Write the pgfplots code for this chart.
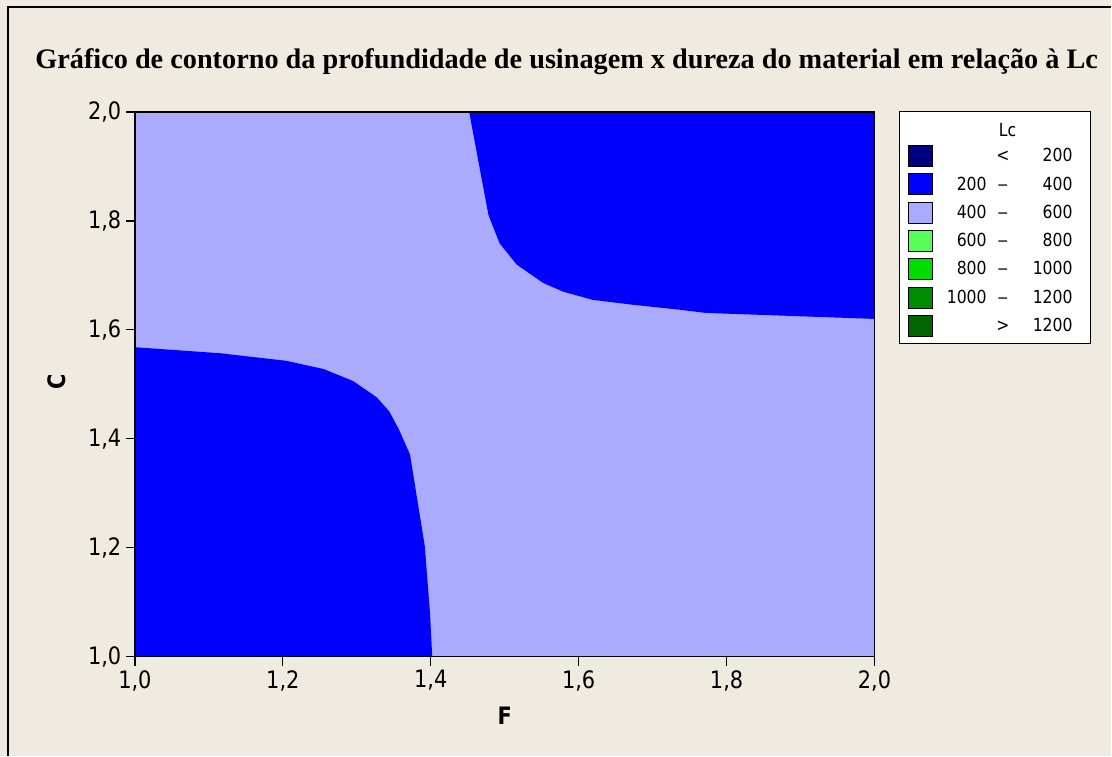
\documentclass[border=0pt]{standalone}
\usepackage{fontspec}
\setmainfont{DejaVu Sans}[FakeStretch=0.87]
\newfontfamily\titlefont{Liberation Serif}
\usepackage{pgfplots}
\pgfplotsset{compat=1.18}

\definecolor{bg}{RGB}{239,235,225}
\definecolor{c1}{RGB}{0,0,128}
\definecolor{c2}{RGB}{0,0,255}
\definecolor{c3}{RGB}{170,170,255}
\definecolor{c4}{RGB}{85,255,85}
\definecolor{c5}{RGB}{0,221,0}
\definecolor{c6}{RGB}{0,140,0}
\definecolor{c7}{RGB}{0,100,0}

% one legend line: low, sign, high
\newcommand\lrow[3]{\makebox[40.3pt][r]{#1}\makebox[24.4pt]{#2}\makebox[47.8pt][l]{\makebox[40.1pt][r]{#3}}}
\newcommand\ldash{\scalebox{1.4}[1]{--}}

\begin{document}
\begin{tikzpicture}
% background, in pixels of the reference (origin = lower left of axis)
\begin{scope}[xshift=-101.25pt, yshift=492.75pt, x=0.75pt, y=-0.75pt]
  \fill[bg] (0,0) rectangle (1112,756);
  \draw[line width=1pt] (8,756) -- (8,7) -- (1112,7);
  \node[font=\titlefont\bfseries\fontsize{21.2}{25}\selectfont, anchor=base] at (567,69)
    {Gráfico de contorno da profundidade de usinagem x dureza do material em relação à Lc};
\end{scope}

\begin{axis}[
  width=555pt, height=408.75pt, scale only axis,
  xmin=1, xmax=2, ymin=1, ymax=2,
  xtick={1,1.2,1.4,1.6,1.8,2},
  ytick={1,1.2,1.4,1.6,1.8,2},
  xtick pos=bottom, ytick pos=left,
  tick align=outside, major tick length=6.75pt,
  tick style={black, line width=1pt},
  axis line style={line width=1pt},
  axis on top,
  /pgf/number format/.cd, use comma, fixed, fixed zerofill, precision=1, assume math mode=true,
  /pgfplots/.cd,
  tick label style={font=\fontsize{18}{21}\selectfont},
  xlabel={F}, ylabel={C},
  label style={font=\bfseries\fontsize{18}{21}\selectfont},
  xlabel style={at={(axis description cs:0.5,-0.108)}, anchor=center},
  ylabel style={at={(axis description cs:-0.105,0.505)}, anchor=center},
  legend image code/.code={\fill[#1] (0pt,-7.875pt) rectangle (18pt,7.875pt);},
  legend style={at={(axis description cs:1.0338,1.0018)}, anchor=north west,
    draw=black, line width=0.75pt, fill=white,
    inner xsep=6pt, inner ysep=5pt, row sep=4.75pt,
    nodes={inner sep=0pt}, font=\fontsize{13.5}{15}\selectfont},
  legend cell align=left,
]
% 400 - 600 everywhere
\addplot[fill=c3, draw=none, forget plot] coordinates {(1,1) (2,1) (2,2) (1,2)} -- cycle;
% 200 - 400, lower left
\addplot[fill=c2, draw=none, forget plot] coordinates {
  (1.0,1.0) (1.0,1.568) (1.115,1.557) (1.205,1.543) (1.255,1.528) (1.295,1.506)
  (1.327,1.476) (1.344,1.450) (1.357,1.417) (1.372,1.371) (1.392,1.202)
  (1.399,1.080) (1.402,1.0)} -- cycle;
% 200 - 400, upper right
\addplot[fill=c2, draw=none, forget plot] coordinates {
  (1.452,2.0) (1.454,1.985) (1.478,1.811) (1.493,1.759) (1.516,1.720)
  (1.552,1.686) (1.579,1.670) (1.619,1.655) (1.673,1.646) (1.736,1.637)
  (1.772,1.631) (2.0,1.620) (2.0,2.0)} -- cycle;

\addlegendimage{empty legend}
\addlegendentry{\raisebox{0pt}[13.95pt][2.65pt]{\makebox[112.5pt][l]{\hspace{56pt}\makebox[0pt]{Lc}}}}
\addlegendimage{fill=c1}\addlegendentry{\lrow{}{<}{200}}
\addlegendimage{fill=c2}\addlegendentry{\lrow{200}{\ldash}{400}}
\addlegendimage{fill=c3}\addlegendentry{\lrow{400}{\ldash}{600}}
\addlegendimage{fill=c4}\addlegendentry{\lrow{600}{\ldash}{800}}
\addlegendimage{fill=c5}\addlegendentry{\lrow{800}{\ldash}{1000}}
\addlegendimage{fill=c6}\addlegendentry{\lrow{1000}{\ldash}{1200}}
\addlegendimage{fill=c7}\addlegendentry{\lrow{}{>}{1200}}
\end{axis}
\end{tikzpicture}
\end{document}
